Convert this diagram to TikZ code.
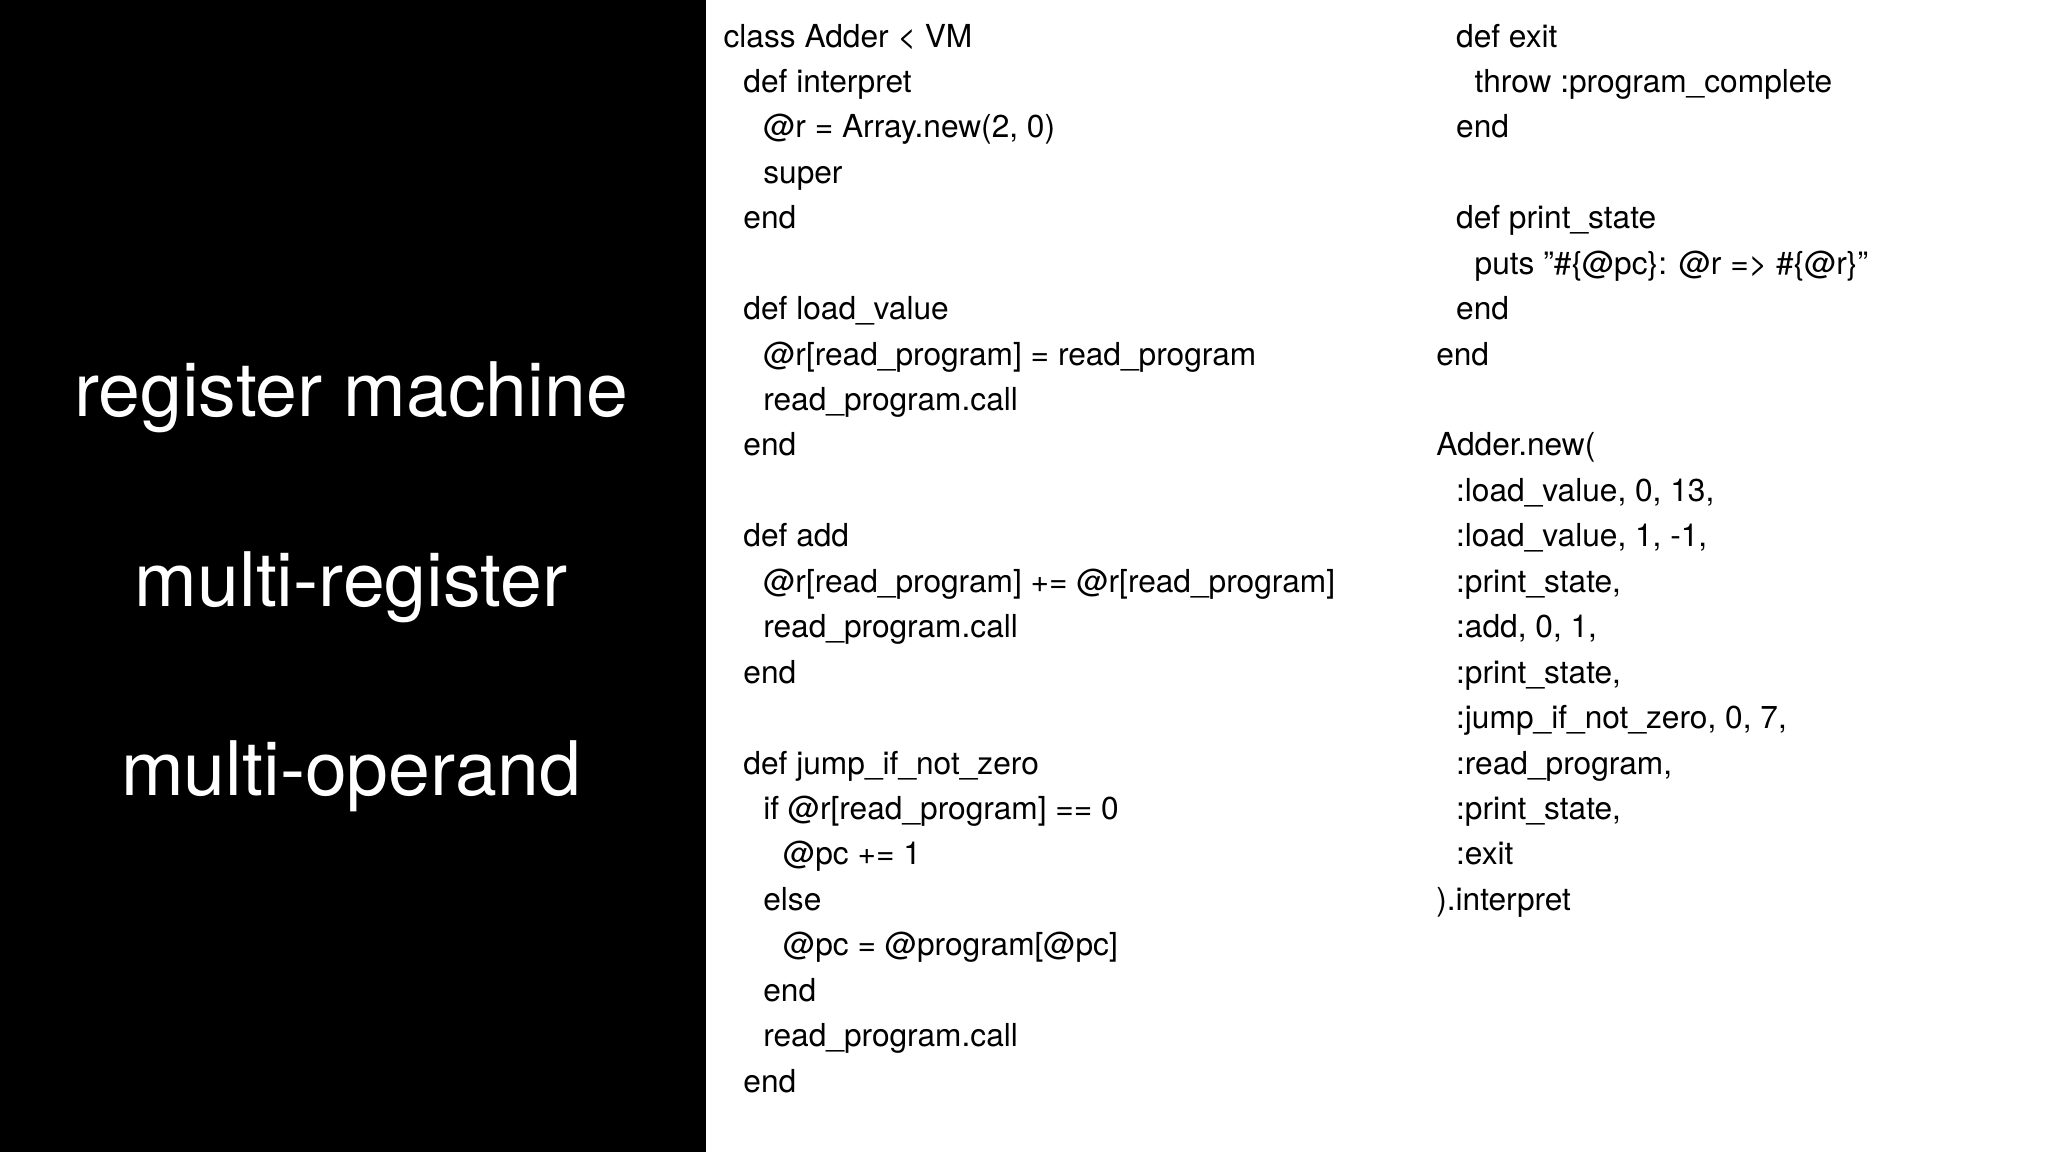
\documentclass[tikz,border=0pt]{standalone}
\usepackage{fontspec}
\setmainfont{TeX Gyre Heros}
\begin{document}
\begin{tikzpicture}[x=1bp,y=-1bp,
  code/.style={anchor=base west,inner sep=0,font=\fontsize{24}{24}\selectfont},
  big/.style={text=white,inner sep=0,font=\fontsize{57}{57}\selectfont}]
\useasboundingbox (0,0) rectangle (1546,869.6);
\fill[white] (0,0) rectangle (1546,869.6);
\fill[black] (0,0) rectangle (533,869.6);
\node[big] (t1) at (265,300) {register machine};
\node[big] (t2) at (265,443) {multi-register};
\node[big] (t3) at (265,586) {multi-operand};
\def\L#1#2#3{\node[code] (l#1) at (#2,{35.5+34.3*#1}) {#3};}
\L{0}{546}{class Adder < VM}
\L{1}{561}{def interpret}
\L{2}{576}{@r = Array.new(2, 0)}
\L{3}{576}{super}
\L{4}{561}{end}
\L{6}{561}{def load\_value}
\L{7}{576}{@r[read\_program] = read\_program}
\L{8}{576}{read\_program.call}
\L{9}{561}{end}
\L{11}{561}{def add}
\L{12}{576}{@r[read\_program] += @r[read\_program]}
\L{13}{576}{read\_program.call}
\L{14}{561}{end}
\L{16}{561}{def jump\_if\_not\_zero}
\L{17}{576}{if @r[read\_program] == 0}
\L{18}{591}{@pc += 1}
\L{19}{576}{else}
\L{20}{591}{@pc = @program[@pc]}
\L{21}{576}{end}
\L{22}{576}{read\_program.call}
\L{23}{561}{end}
\def\R#1#2#3{\node[code] (r#1) at (#2,{35.5+34.3*#1}) {#3};}
\R{0}{1099}{def exit}
\R{1}{1113}{throw :program\_complete}
\R{2}{1099}{end}
\R{4}{1099}{def print\_state}
\R{5}{1113}{puts "\#\{@pc\}: @r => \#\{@r\}"}
\R{6}{1099}{end}
\R{7}{1084}{end}
\R{9}{1084}{Adder.new(}
\R{10}{1099}{:load\_value, 0, 13,}
\R{11}{1099}{:load\_value, 1, -1,}
\R{12}{1099}{:print\_state,}
\R{13}{1099}{:add, 0, 1,}
\R{14}{1099}{:print\_state,}
\R{15}{1099}{:jump\_if\_not\_zero, 0, 7,}
\R{16}{1099}{:read\_program,}
\R{17}{1099}{:print\_state,}
\R{18}{1099}{:exit}
\R{19}{1084}{).interpret}
\end{tikzpicture}
\end{document}
